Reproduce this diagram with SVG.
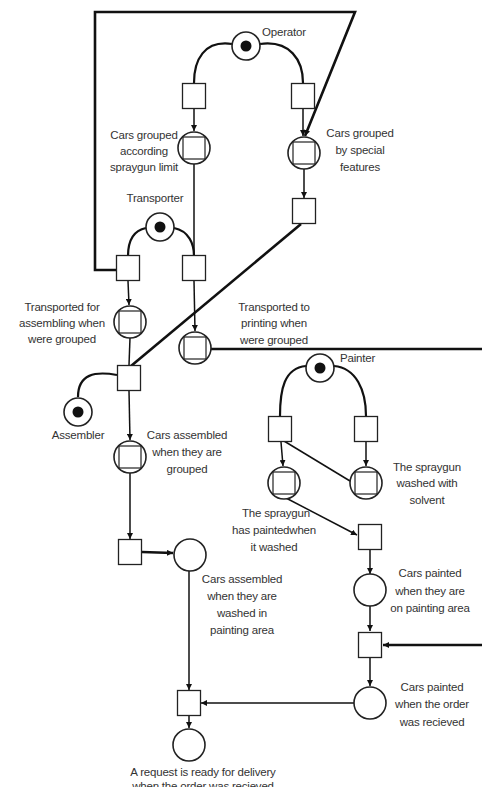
<svg xmlns="http://www.w3.org/2000/svg" width="482" height="787" viewBox="0 0 482 787">
<style>
.bg{fill:#fff}
.t{fill:#fff;stroke:#222;stroke-width:1.3}
.p{fill:#fff;stroke:#222;stroke-width:1.6}
.sq{fill:none;stroke:#222;stroke-width:1.2}
.tok{fill:#111}
.c{fill:none;stroke:#111;stroke-width:1.5}
.arc{fill:none;stroke:#111;stroke-width:2.2}
.thick{fill:none;stroke:#111;stroke-width:2.6}
text{font-family:"Liberation Sans",Arial,sans-serif;font-size:11.5px;fill:#333;text-anchor:middle;letter-spacing:-0.2px}
</style>
<defs>
<marker id="ar" viewBox="0 0 8 8" refX="8" refY="4" markerWidth="6" markerHeight="6" markerUnits="userSpaceOnUse" orient="auto">
<path d="M0,0 L8,4 L0,8 z" fill="#111"/>
</marker>
</defs>
<rect class="bg" x="0" y="0" width="482" height="787"/>

<g id="connectors">
<path class="arc" d="M232,44 C204,40 194,60 194,83"/>
<path class="arc" d="M260,44 C290,40 303,60 303,83"/>
<path class="c" d="M194,109 L194,131" marker-end="url(#ar)"/>
<path class="c" d="M303,109 L303,136" marker-end="url(#ar)"/>
<path class="thick" d="M117,270 L95,270 L95,12 L355,12 L305,136" marker-end="url(#ar)"/>
<path class="c" d="M304,169 L304,198" marker-end="url(#ar)"/>
<path class="thick" d="M301,224 L131,366"/>
<path class="arc" d="M146,228 C131,231 128,244 128,256"/>
<path class="arc" d="M174,228 C189,231 194,244 194,256"/>
<path class="c" d="M194,164 L194,255"/>
<path class="c" d="M128,281 L129,305" marker-end="url(#ar)"/>
<path class="c" d="M194,281 L195,331" marker-end="url(#ar)"/>
<path class="thick" d="M211,349 L482,349"/>
<path class="c" d="M130,338 L129,365"/>
<path class="arc" d="M78,397 C78,374 95,371 117,375"/>
<path class="c" d="M129,391 L130,440" marker-end="url(#ar)"/>
<path class="c" d="M130,473 L130,539" marker-end="url(#ar)"/>
<path class="thick" d="M142,552 L173,553" marker-end="url(#ar)"/>
<path class="c" d="M189,571 L189,690" marker-end="url(#ar)"/>
<path class="c" d="M189,716 L189,728" marker-end="url(#ar)"/>
<path class="arc" d="M306,366 C284,368 280,390 280,416"/>
<path class="arc" d="M334,366 C356,368 366,390 366,416"/>
<path class="c" d="M281,442 L283,466" marker-end="url(#ar)"/>
<path class="c" d="M284,441 L350,481"/>
<path class="c" d="M366,442 L366,466" marker-end="url(#ar)"/>
<path class="c" d="M286,498 L357,535" marker-end="url(#ar)"/>
<path class="c" d="M370,550 L370,574" marker-end="url(#ar)"/>
<path class="c" d="M370,606 L370,631" marker-end="url(#ar)"/>
<path class="thick" d="M482,645 L383,645" marker-end="url(#ar)"/>
<path class="c" d="M370,658 L370,686" marker-end="url(#ar)"/>
<path class="c" d="M354,703 L201,703" marker-end="url(#ar)"/>
</g>

<g id="operator"><circle class="p" cx="246" cy="46" r="14"/><circle class="tok" cx="246" cy="46" r="5.5"/><text x="262" y="36" style="text-anchor:start">Operator</text></g>
<g id="t1"><rect class="t" x="182.5" y="83.5" width="23" height="25"/></g>
<g id="t2"><rect class="t" x="291.5" y="83.5" width="23" height="25"/></g>
<g id="p-grouped-limit"><circle class="p" cx="194" cy="148" r="16"/><rect class="sq" x="183" y="137" width="22" height="22"/>
<text x="144" y="139">Cars grouped</text><text x="144" y="155">according</text><text x="144" y="171">spraygun limit</text></g>
<g id="p-grouped-special"><circle class="p" cx="304" cy="153" r="16"/><rect class="sq" x="293" y="142" width="22" height="22"/>
<text x="360" y="137">Cars grouped</text><text x="360" y="154">by special</text><text x="360" y="171">features</text></g>
<g id="t3"><rect class="t" x="292.5" y="198.5" width="23" height="25"/></g>
<g id="transporter"><circle class="p" cx="160" cy="227" r="14"/><circle class="tok" cx="160" cy="227" r="5.5"/><text x="155" y="202">Transporter</text></g>
<g id="t4"><rect class="t" x="116.5" y="255.5" width="23" height="25"/></g>
<g id="t5"><rect class="t" x="182.5" y="255.5" width="23" height="25"/></g>
<g id="p-transported-assembling"><circle class="p" cx="130" cy="322" r="16"/><rect class="sq" x="119" y="311" width="22" height="22"/>
<text x="62" y="311">Transported for</text><text x="62" y="327">assembling when</text><text x="62" y="343">were grouped</text></g>
<g id="p-transported-printing"><circle class="p" cx="195" cy="348" r="16"/><rect class="sq" x="184" y="337" width="22" height="22"/>
<text x="274" y="311">Transported to</text><text x="274" y="327">printing when</text><text x="274" y="344">were grouped</text></g>
<g id="t6"><rect class="t" x="117.5" y="365.5" width="23" height="25"/></g>
<g id="assembler"><circle class="p" cx="78" cy="412" r="14"/><circle class="tok" cx="78" cy="412" r="5.5"/><text x="78" y="439">Assembler</text></g>
<g id="p-assembled-grouped"><circle class="p" cx="130" cy="457" r="16"/><rect class="sq" x="119" y="446" width="22" height="22"/>
<text x="187" y="439">Cars assembled</text><text x="187" y="456">when they are</text><text x="187" y="473">grouped</text></g>
<g id="t7"><rect class="t" x="118.5" y="539.5" width="23" height="25"/></g>
<g id="p-assembled-washed"><circle class="p" cx="190" cy="555" r="16"/>
<text x="242" y="583">Cars assembled</text><text x="242" y="600">when they are</text><text x="242" y="617">washed in</text><text x="242" y="634">painting area</text></g>
<g id="t8"><rect class="t" x="177.5" y="690.5" width="23" height="25"/></g>
<g id="p-request"><circle class="p" cx="189" cy="745" r="16"/>
<text x="203" y="776">A request is ready for delivery</text><text x="203" y="790">when the order was recieved</text></g>
<g id="painter"><circle class="p" cx="320" cy="368" r="14"/><circle class="tok" cx="320" cy="368" r="5.5"/><text x="340" y="362" style="text-anchor:start">Painter</text></g>
<g id="t9"><rect class="t" x="268.5" y="416.5" width="23" height="25"/></g>
<g id="t10"><rect class="t" x="354.5" y="416.5" width="23" height="25"/></g>
<g id="p-spraygun-painted"><circle class="p" cx="284" cy="483" r="16"/><rect class="sq" x="273" y="472" width="22" height="22"/>
<text x="276" y="517">The spraygun</text><text x="274" y="534">has paintedwhen</text><text x="274" y="551">it washed</text></g>
<g id="p-spraygun-washed"><circle class="p" cx="366" cy="483" r="16"/><rect class="sq" x="355" y="472" width="22" height="22"/>
<text x="427" y="471">The spraygun</text><text x="427" y="487">washed with</text><text x="427" y="504">solvent</text></g>
<g id="t11"><rect class="t" x="358.5" y="524.5" width="23" height="25"/></g>
<g id="p-painted-area"><circle class="p" cx="370" cy="590" r="16"/>
<text x="430" y="577">Cars painted</text><text x="430" y="595">when they are</text><text x="430" y="612">on painting area</text></g>
<g id="t12"><rect class="t" x="358.5" y="632.5" width="23" height="25"/></g>
<g id="p-painted-order"><circle class="p" cx="370" cy="703" r="16"/>
<text x="432" y="691">Cars painted</text><text x="432" y="708">when the order</text><text x="432" y="726">was recieved</text></g>
</svg>
